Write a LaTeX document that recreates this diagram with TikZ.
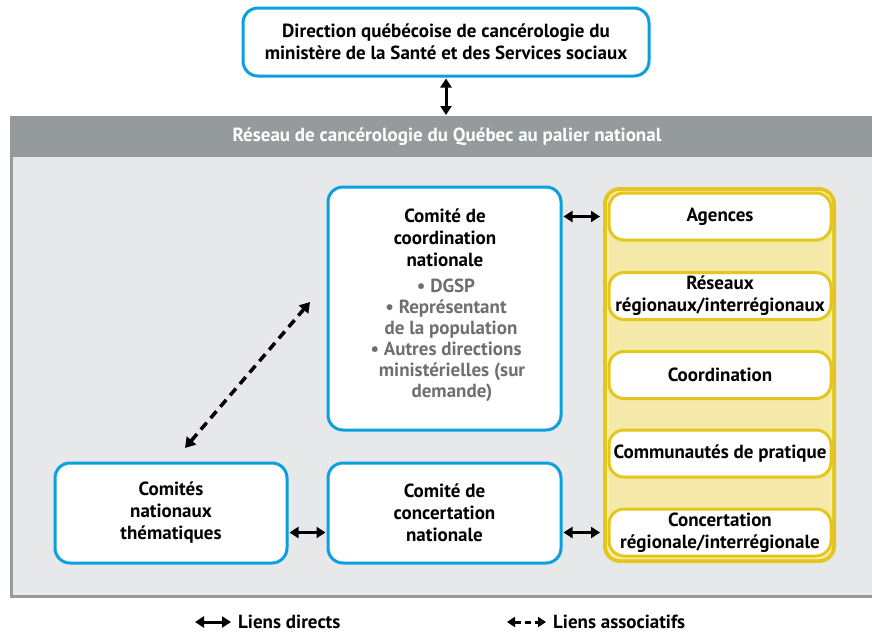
\documentclass[tikz,border=0pt]{standalone}
\usepackage{fontspec}
\setmainfont{PT Sans}
\usetikzlibrary{arrows.meta,calc}
\definecolor{bluebd}{RGB}{10,160,222}
\definecolor{hdrgray}{RGB}{149,155,156}
\definecolor{bggray}{RGB}{231,232,234}
\definecolor{yelbd}{RGB}{228,199,30}
\definecolor{yellite}{RGB}{249,239,170}
\definecolor{yelfill}{RGB}{244,233,168}
\definecolor{bultxt}{RGB}{110,111,113}
\tikzset{
  x=1pt,y=-1pt,
  txt/.style={font=\fontsize{19}{22}\selectfont\bfseries, align=center, inner sep=0pt},
  bluebox/.style={draw=bluebd, line width=3pt, fill=white, rounded corners=15pt, inner sep=0pt, txt},
  yelbox/.style={draw=yelbd, line width=3pt, fill=white, rounded corners=15pt, inner sep=0pt, txt, minimum width=222pt, minimum height=47pt},
  link/.style={line width=3pt, {Triangle[length=9pt,width=11pt]}-{Triangle[length=9pt,width=11pt]}, shorten >=1pt, shorten <=1pt},
  asso/.style={line width=3.5pt, dash pattern=on 9pt off 6pt, {Triangle[length=10pt,width=12pt]}-{Triangle[length=10pt,width=12pt]}},
}
\begin{document}
\begin{tikzpicture}
\useasboundingbox (0,0) rectangle (872,633);
\fill[white] (0,0) rectangle (872,633);
% frame
\fill[hdrgray] (10,116) rectangle (880,598);
\fill[bggray] (13,157) rectangle (880,595);
\coordinate (frametop) at (446,116);
\node[txt, text=white] (header) at (447,137) {Réseau de cancérologie du Québec au palier national};
% top box
\node[bluebox, minimum width=406pt, minimum height=68pt] (dq) at (446,42)
  {Direction québécoise de cancérologie du\\ministère de la Santé et des Services sociaux};
\draw[link] (dq.south) -- (dq.south |- frametop);
% coordination box
\node[bluebox, minimum width=233pt, minimum height=243pt] (coord) at (444.5,308.5) {};
\node[txt] (coordtitle) at (445,238) {Comité de\\coordination\\nationale};
\node[txt, text=bultxt, font=\fontsize{19}{21}\selectfont\bfseries] (coordlist) at (446,340.5)
  {• DGSP\\• Représentant\\\hspace*{10pt}de la population\\• Autres directions\\\hspace*{12pt}ministérielles (sur\\\hspace*{12pt}demande)};
% yellow panel
\draw[yelbd, line width=4pt, fill=yelfill, rounded corners=15pt] (605,189) rectangle (834,561);
\draw[yellite, line width=2pt, rounded corners=12pt] (608,192) rectangle (831,558);
\coordinate (panelw) at (601,375);
\node[yelbox] (agences) at (720,216.5) {Agences};
\node[yelbox] (reseaux) at (720,296) {Réseaux\\régionaux/interrégionaux};
\node[yelbox] (coordi) at (720,375) {Coordination};
\node[yelbox] (commu) at (720,453.5) {Communautés de pratique};
\node[yelbox] (concreg) at (720,532.5) {Concertation\\régionale/interrégionale};
% bottom boxes
\node[bluebox, minimum width=232pt, minimum height=100pt] (comites) at (171,513) {Comités\\nationaux\\thématiques};
\node[bluebox, minimum width=233pt, minimum height=100pt] (concert) at (444.5,513) {Comité de\\concertation\\nationale};
% links
\draw[link] (coord.east |- agences) -- (panelw |- agences);
\draw[link] (concert.east |- concreg) -- (panelw |- concreg);
\draw[link] (comites.east |- concreg) -- (concert.west |- concreg);
\coordinate (da1) at (310,302);
\coordinate (da2) at (185,448);
\draw[asso] (da2) -- (da1);
% legend
\coordinate (l1a) at (195,622);
\coordinate (l1b) at (231,622);
\draw[link, shorten >=0pt, shorten <=0pt] (l1a) -- (l1b);
\node[txt, anchor=west] (l1) at (238,622) {Liens directs};
\coordinate (l2a) at (507,622);
\coordinate (l2b) at (546,622);
\draw[line width=3pt, dash pattern=on 6pt off 4pt, {Triangle[length=8pt,width=10pt]}-{Triangle[length=8pt,width=10pt]}] (l2a) -- (l2b);
\node[txt, anchor=west] (l2) at (553,622) {Liens associatifs};
\end{tikzpicture}
\end{document}
